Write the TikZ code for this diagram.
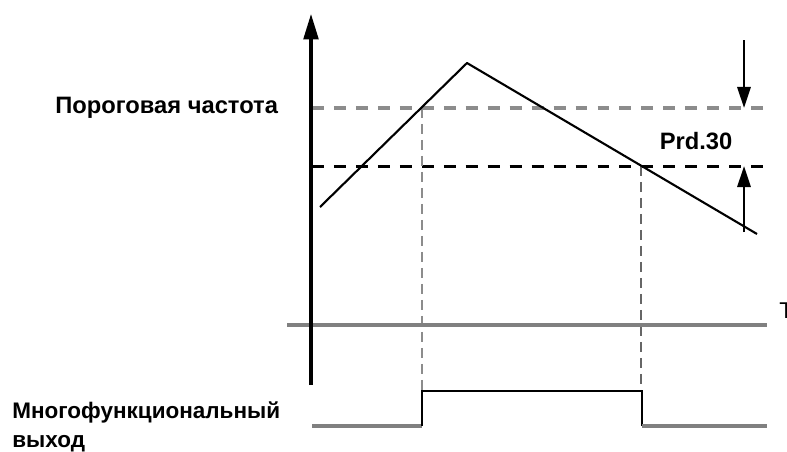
\documentclass[tikz,border=0pt]{standalone}
\usepackage{fontspec}
\setmainfont{Liberation Sans}
\usepackage{xcolor}
\usepackage{tikz}
\usetikzlibrary{arrows.meta}
\definecolor{axgray}{RGB}{128,128,128}
\definecolor{dashgray}{RGB}{140,140,140}

\begin{document}
\begin{tikzpicture}[x=0.02cm,y=-0.02cm,
    lbl/.style={font=\bfseries\fontsize{13.5}{16.5}\selectfont,inner sep=0pt},
    thr/.style={line width=2pt,dash pattern=on 6.8pt off 5.7pt},
    guide/.style={line width=1.1pt,dash pattern=on 5.7pt off 3.4pt},
    gap/.style={line width=1.5pt,-{Triangle[length=12pt,width=7.5pt]}}]
  \useasboundingbox (0,0) rectangle (787,451);
  % ramp up, ramp down
  \coordinate (start) at (320,207);
  \coordinate (peak) at (467,63);
  \coordinate (stop) at (757,234);
  % crossings with the two threshold levels
  \coordinate (up) at (422,108);
  \coordinate (down) at (641,166);
  % threshold levels
  \draw[thr,dashgray] (312,108) -- (770,108);
  \draw[thr,black,line width=1.7pt] (312,166) -- (770,166);
  % guides down to the output
  \draw[guide,dashgray] (up) -- (422,392);
  \draw[guide,black!60] (down) -- (641,392);
  % time axis
  \draw[axgray,line width=2.3pt] (287,325) -- (767,325);
  \node[anchor=west,inner sep=0pt,font=\fontsize{13}{15}\selectfont] (t) at (779,311) {T};
  % frequency axis
  \draw[line width=2.8pt,-{Triangle[length=15pt,width=8pt]}] (311,385) -- (311,13);
  % frequency curve
  \draw[line width=1.2pt,line join=round] (start) -- (peak) -- (stop);
  % hysteresis band
  \coordinate (bandtop) at (744,40);
  \coordinate (bandhi) at (744,108);
  \coordinate (bandlo) at (744,166);
  \coordinate (bandbot) at (744,232);
  \draw[gap] (bandtop) -- (bandhi);
  \draw[gap] (bandbot) -- (bandlo);
  \node[lbl] (prd) at (696,141) {Prd.30};
  % output signal
  \draw[axgray,line width=2.3pt] (312,426) -- (422,426);
  \draw[line width=1.1pt,line join=miter] (422,426) -- (422,391) -- (642,391) -- (642,426);
  \draw[axgray,line width=2.3pt] (642,426) -- (767,426);
  % labels
  \node[lbl,anchor=west] (thresh) at (55,108) {Пороговая частота};
  \node[lbl,anchor=west,align=left,font=\bfseries\fontsize{12.8}{16.5}\selectfont] (out) at (12,427) {Многофункциональный\\выход};
\end{tikzpicture}
\end{document}
